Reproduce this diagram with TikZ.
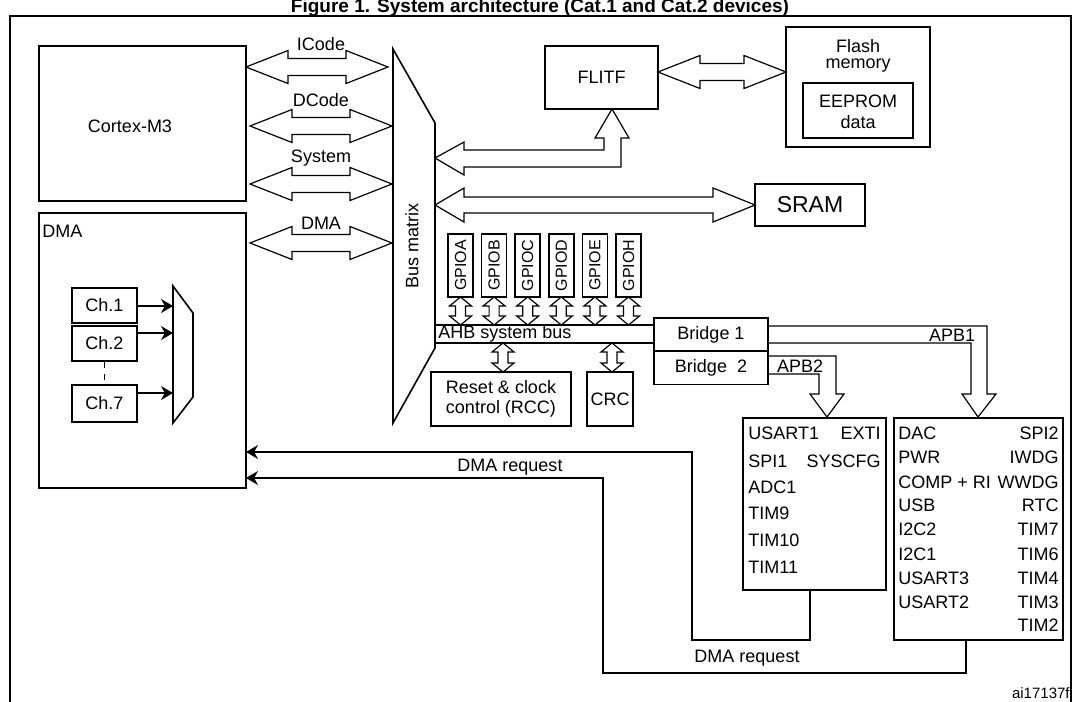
\documentclass[tikz,border=0pt]{standalone}
\usepackage{fontspec}
\setmainfont{Liberation Sans}
\usetikzlibrary{arrows.meta,calc,positioning}

% fat double arrow, horizontal: x1, x2, y
\newcommand\fatH[3]{\draw[fat] (#1,#3) -- ++(42,-16.5) -- ++(0,8) -- ({#2-42},{#3-8.5}) -- ++(0,-8) -- (#2,#3) -- ++(-42,16.5) -- ++(0,-8) -- ({#1+42},{#3+8.5}) -- ++(0,8) -- cycle;}
% small double arrow, vertical: x, y1, y2
\newcommand\fatV[3]{\draw[fat] (#1,#2) -- ++(11,9) -- ++(-6,0) -- ({#1+5},{#3-9}) -- ++(6,0) -- (#1,#3) -- ++(-11,-9) -- ++(6,0) -- ({#1-5},{#2+9}) -- ++(-6,0) -- cycle;}

\begin{document}
\begin{tikzpicture}[x=0.5pt,y=-0.5pt,font=\fontsize{9}{10}\selectfont]
	\tikzset{box/.style={draw, line width=0.8pt, inner sep=0pt},
		fat/.style={line width=0.6pt, line join=miter},
		txt/.style={inner sep=0pt},
		req/.style={line width=0.6pt, -{Stealth[length=6pt,width=7pt]}}}
	\useasboundingbox (0,0) rectangle (1079,701);

	\node[txt, font=\fontsize{9.5}{11}\bfseries] (title) at (540,7.5) {Figure 1. System architecture (Cat.1 and Cat.2 devices)};
	\draw[line width=0.8pt] (10,712) -- (10,16) -- (1071,16) -- (1071,712);

	% masters
	\draw[box] (39,46) rectangle (246,201);
	\node[txt] (cortex) at (130,126) {Cortex-M3};
	\draw[box] (39,213) rectangle (246,488);
	\node[txt, anchor=north west] (dmalbl) at (42,225) {DMA};

	% DMA channels and mux
	\node[box, minimum width=32.5pt, minimum height=17.5pt] (ch1) at (104.5,305.5) {Ch.1};
	\node[box, minimum width=32.5pt, minimum height=17.5pt] (ch2) at (104.5,343.5) {Ch.2};
	\node[box, minimum width=32.5pt, minimum height=18.5pt] (ch7) at (104.5,403.5) {Ch.7};
	\draw[line width=0.8pt] (173,286) -- (193,313) -- (193,397) -- (173,423) -- cycle;
	\draw[line width=0.8pt, dash pattern=on 3pt off 3pt] (ch2.south) -- (ch7.north);
	\foreach \c/\y in {ch1/306, ch2/333, ch7/393}
		\draw[req] (\c.east |- 0,\y) -- (173,\y);

	% bus matrix
	\draw[line width=0.8pt] (393,49) -- (435,123) -- (435,348) -- (393,423) -- cycle;
	\node[txt, rotate=90] (busm) at (412,246) {Bus matrix};

	\fatH{246}{388}{67}
	\fatH{250}{392}{126}
	\fatH{250}{392}{184}
	\fatH{250}{392}{243}
	\node[txt] (icode) at (321,44) {ICode};
	\node[txt] (dcode) at (321,100) {DCode};
	\node[txt] (sys) at (321,158) {System};
	\node[txt] (dmab) at (321,223) {DMA};

	% flash side
	\node[box, minimum width=56.5pt, minimum height=31.5pt] (flitf) at (601.5,77.5) {FLITF};
	\draw[box] (786,27) rectangle (930,147);
	\node[txt] (flash) at (858,46) {Flash};
	\node[txt] (mem) at (858,66) {memory};
	\draw[box] (803,83) rectangle (913,138);
	\node[txt] (ee) at (858,101) {EEPROM};
	\node[txt] (eedata) at (858,122) {data};
	\fatH{658}{786}{72}
	\draw[fat] (435,158) -- (464,142) -- (464,150) -- (604,150) -- (604,138) -- (595,138) -- (612,109)
		-- (629,138) -- (621,138) -- (621,167) -- (464,167) -- (464,175) -- cycle;

	% SRAM
	\node[box, minimum width=55pt, minimum height=21pt, font=\fontsize{11.5}{13}\selectfont] (sram) at (810,205) {SRAM};
	\draw[fat] (435,205) -- (464,188) -- (464,197) -- (713,197) -- (713,188) -- (755,205)
		-- (713,222) -- (713,213) -- (464,213) -- (464,222) -- cycle;

	% GPIO ports
	\foreach \n [count=\i from 0] in {A,B,C,D,E,H} {
		\node[box, minimum width=31.5pt, minimum height=12.5pt, rotate=90, font=\fontsize{8}{9}\selectfont] (gpio\n) at ({460.5+33.6*\i},265.5) {GPIO\n};
		\fatV{460.5+33.6*\i}{297}{325}
	}

	% AHB bus and bridges
	\draw[line width=0.8pt] (435,325) -- (654,325);
	\draw[line width=0.8pt] (435,343) -- (654,343);
	\node[txt, anchor=west] (ahb) at (438,334) {AHB system bus};
	\node[box, minimum width=57pt, minimum height=16.5pt] (br1) at (711,334.5) {Bridge 1};
	\node[box, minimum width=57pt, minimum height=16.5pt] (br2) at (711,368) {Bridge\ \ 2};

	% RCC, CRC
	\node[box, minimum width=70pt, minimum height=27pt, align=left] (rcc) at (501,399) {Reset \& clock\\control (RCC)};
	\node[box, minimum width=23pt, minimum height=27pt] (crc) at (610,399) {CRC};
	\fatV{503}{343}{372}
	\fatV{612}{343}{372}

	% APB buses
	\draw[fat] (br1.east |- 0,326) -- (987,326) -- (987,394) -- (996,394) -- (978,417) -- (962,394)
		-- (971,394) -- (971,343) -- (br1.east |- 0,343);
	\node[txt] (apb1) at (952,335) {APB1};
	\draw[fat] (br2.east |- 0,356) -- (836,356) -- (836,394) -- (844,394) -- (827,417) -- (810,394)
		-- (819,394) -- (819,374) -- (br2.east |- 0,374);
	\node[txt] (apb2) at (800,366) {APB2};

	% APB2 peripherals
	\draw[box] (743,418) rectangle (886,590);
	\foreach \t/\y in {USART1/433, SPI1/461, ADC1/487, TIM9/513, TIM10/540, TIM11/567}
		\node[txt, anchor=west] at (748,\y) {\t};
	\foreach \t/\y in {EXTI/433, SYSCFG/461}
		\node[txt, anchor=east] at (881,\y) {\t};

	% APB1 peripherals
	\draw[box] (894,418) rectangle (1063,640);
	\foreach \t/\y in {DAC/433, PWR/457, COMP + RI/482, USB/505, I2C2/529, I2C1/554, USART3/578, USART2/602}
		\node[txt, anchor=west] at (898,\y) {\t};
	\foreach \t/\y in {SPI2/433, IWDG/457, WWDG/482, RTC/505, TIM7/529, TIM6/554, TIM4/578, TIM3/602, TIM2/625}
		\node[txt, anchor=east] at (1059,\y) {\t};

	% DMA requests
	\draw[req] (810,590) -- (810,640) -- (692,640) -- (692,452) -- (246,452);
	\draw[req] (966,640) -- (966,673) -- (603,673) -- (603,478) -- (246,478);
	\node[txt] (req1) at (510,467) {DMA request};
	\node[txt] (req2) at (747,658) {DMA request};

	\node[txt, anchor=east, font=\fontsize{7.5}{8}\selectfont] (ai) at (1070,693) {ai17137f};
\end{tikzpicture}
\end{document}
